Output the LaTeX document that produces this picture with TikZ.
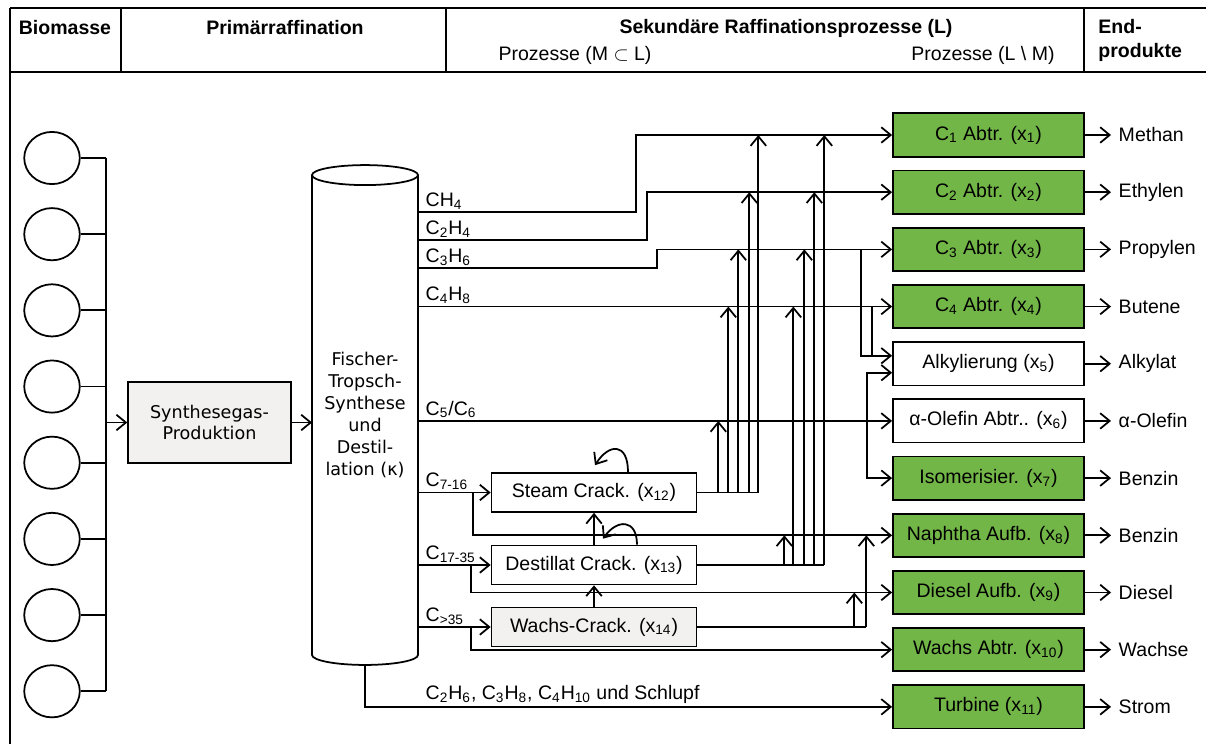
\documentclass[tikz,border=0pt]{standalone}
\usepackage{fontspec}
\setmainfont{Liberation Sans}
\newfontfamily\dejavu{DejaVu Sans}
\usepackage{tikz}
\usetikzlibrary{arrows.meta,shapes.geometric,positioning,calc}
\definecolor{procgreen}{RGB}{114,182,72}
\definecolor{procgrey}{RGB}{243,241,239}

\begin{document}
\begin{tikzpicture}[
    x=0.018cm, y=0.018cm,
    line width=0.9pt,
    font=\fontsize{10}{12}\selectfont,
    bio/.style={ellipse,draw,minimum width=1.0cm,minimum height=0.94cm,inner sep=0pt},
    gas/.style={rectangle,draw,fill=procgrey,minimum width=2.93cm,minimum height=1.46cm,
                align=center,font=\dejavu\fontsize{9}{11.2}\selectfont},
    col/.style={rectangle,minimum width=1.908cm,minimum height=8.64cm,inner sep=0pt,outer sep=0pt,
                align=center,font=\dejavu\fontsize{9}{11.2}\selectfont},
    sec/.style={rectangle,draw,fill=procgreen,minimum width=3.44cm,minimum height=0.78cm,inner sep=0pt},
    opt/.style={sec,fill=white},
    crk/.style={rectangle,draw,fill=white,minimum width=3.69cm,minimum height=0.70cm,inner sep=0pt},
    prod/.style={anchor=west,inner sep=3.5pt},
    strm/.style={anchor=south west,inner sep=1pt,xshift=2.5pt},
    hd/.style={font=\fontsize{10}{12.3}\selectfont\bfseries},
    ar/.style={-{Straight Barb[length=1.7mm,width=2.8mm]}}
  ]
  \useasboundingbox (0,0) rectangle (1206,-744);

  % frame and header
  \draw (10,-8) -- (1206,-8);
  \draw (10,-72) -- (1206,-72);
  \draw (10,-8) -- (10,-744);
  \draw (121,-8) -- (121,-72);
  \draw (446,-8) -- (446,-72);
  \draw (1084,-8) -- (1084,-72);
  \node[hd] (h1) at (65,-28) {Biomasse};
  \node[hd] (h2) at (285,-28) {Primärraffination};
  \node[hd] (h3) at (786,-28) {Sekundäre Raffinationsprozesse (L)};
  \node (h4) at (575,-55) {Prozesse (M $\subset$ L)};
  \node (h5) at (983,-55) {Prozesse (L \textbackslash{} M)};
  \node[hd,align=left,anchor=west] (h6) at (1091,-40) {End-\\produkte};

  % biomass sources
  \node[bio] (b1) at (52,-158) {};
  \node[bio,below=0.40cm of b1] (b2) {};
  \node[bio,below=0.40cm of b2] (b3) {};
  \node[bio,below=0.40cm of b3] (b4) {};
  \node[bio,below=0.40cm of b4] (b5) {};
  \node[bio,below=0.40cm of b5] (b6) {};
  \node[bio,below=0.40cm of b6] (b7) {};
  \node[bio,below=0.40cm of b7] (b8) {};
  \draw (b1.east) -- ++(25,0) coordinate (bt);
  \draw (b2.east) -- (b2.east -| bt);
  \draw (b3.east) -- (b3.east -| bt);
  \draw (b4.east) -- (b4.east -| bt);
  \draw (b5.east) -- (b5.east -| bt);
  \draw (b6.east) -- (b6.east -| bt);
  \draw (b7.east) -- (b7.east -| bt);
  \draw (b8.east) -- (b8.east -| bt);
  \draw (bt) -- (b8.east -| bt);

  % primary refining
  \node[gas] (syn) at (209.5,-422.5) {Synthesegas-\\Produktion};
  \node[col] (ft) at (365,-415) {Fischer-\\Tropsch-\\Synthese\\und\\Destil-\\lation (κ)};
  \draw (ft.north west) -- (ft.south west)
        arc[start angle=180,end angle=360,x radius=0.954cm,y radius=0.18cm] -- (ft.north east);
  \draw (ft.north) ellipse[x radius=0.954cm,y radius=0.18cm];
  \draw[ar] (syn.west -| bt) -- (syn.west);
  \draw[ar] (syn.east) -- (syn.east -| ft.west);

  % secondary processes and end products
  \node[sec] (c1) at (988.5,-135) {C\textsubscript{1} Abtr. (x\textsubscript{1})};
  \node[sec,below=0.218cm of c1] (c2) {C\textsubscript{2} Abtr. (x\textsubscript{2})};
  \node[sec,below=0.218cm of c2] (c3) {C\textsubscript{3} Abtr. (x\textsubscript{3})};
  \node[sec,below=0.218cm of c3] (c4) {C\textsubscript{4} Abtr. (x\textsubscript{4})};
  \node[opt,below=0.218cm of c4] (c5) {Alkylierung (x\textsubscript{5})};
  \node[opt,below=0.218cm of c5] (c6) {α-Olefin Abtr.. (x\textsubscript{6})};
  \node[sec,below=0.218cm of c6] (c7) {Isomerisier. (x\textsubscript{7})};
  \node[sec,below=0.218cm of c7] (c8) {Naphtha Aufb. (x\textsubscript{8})};
  \node[sec,below=0.218cm of c8] (c9) {Diesel Aufb. (x\textsubscript{9})};
  \node[sec,below=0.218cm of c9] (c10) {Wachs Abtr. (x\textsubscript{10})};
  \node[sec,below=0.218cm of c10] (c11) {Turbine (x\textsubscript{11})};

  \node[prod,right=0.47cm of c1] (p1) {Methan};
  \node[prod,right=0.47cm of c2] (p2) {Ethylen};
  \node[prod,right=0.47cm of c3] (p3) {Propylen};
  \node[prod,right=0.47cm of c4] (p4) {Butene};
  \node[prod,right=0.47cm of c5] (p5) {Alkylat};
  \node[prod,right=0.47cm of c6] (p6) {α-Olefin};
  \node[prod,right=0.47cm of c7] (p7) {Benzin};
  \node[prod,right=0.47cm of c8] (p8) {Benzin};
  \node[prod,right=0.47cm of c9] (p9) {Diesel};
  \node[prod,right=0.47cm of c10] (p10) {Wachse};
  \node[prod,right=0.47cm of c11] (p11) {Strom};
  \draw[ar] (c1) -- (p1);
  \draw[ar] (c2) -- (p2);
  \draw[ar] (c3) -- (p3);
  \draw[ar] (c4) -- (p4);
  \draw[ar] (c5) -- (p5);
  \draw[ar] (c6) -- (p6);
  \draw[ar] (c7) -- (p7);
  \draw[ar] (c8) -- (p8);
  \draw[ar] (c9) -- (p9);
  \draw[ar] (c10) -- (p10);
  \draw[ar] (c11) -- (p11);

  % cracking units
  \node[crk] (sc) at (594,-492.5) {Steam Crack. (x\textsubscript{12})};
  \node[crk] (dc) at (594,-565) {Destillat Crack. (x\textsubscript{13})};
  \node[crk,fill=procgrey] (wc) at (594,-627) {Wachs-Crack. (x\textsubscript{14})};

  % product streams of the column
  \coordinate (t1) at (ft.east |- 0,-212);
  \coordinate (t2) at (ft.east |- 0,-240);
  \coordinate (t3) at (ft.east |- 0,-268);
  \coordinate (t4) at (ft.east |- c4);
  \coordinate (t5) at (ft.east |- c6);
  \coordinate (t6) at (ft.east |- sc);
  \coordinate (t7) at (ft.east |- dc);
  \coordinate (t8) at (ft.east |- wc);
  \node[strm] (l1) at (t1) {CH\textsubscript{4}};
  \node[strm] (l2) at (t2) {C\textsubscript{2}H\textsubscript{4}};
  \node[strm] (l3) at (t3) {C\textsubscript{3}H\textsubscript{6}};
  \node[strm] (l4) at (t4) {C\textsubscript{4}H\textsubscript{8}};
  \node[strm] (l5) at (t5) {C\textsubscript{5}/C\textsubscript{6}};
  \node[strm] (l6) at (t6) {C\textsubscript{7-16}};
  \node[strm] (l7) at (t7) {C\textsubscript{17-35}};
  \node[strm] (l8) at (t8) {C\textsubscript{>35}};
  \node[strm] (l9) at (ft.east |- c11) {C\textsubscript{2}H\textsubscript{6}, C\textsubscript{3}H\textsubscript{8}, C\textsubscript{4}H\textsubscript{10} und Schlupf};

  \draw[ar] (t1) -- ++(218,0) |- (c1);
  \draw[ar] (t2) -- ++(229,0) |- (c2);
  \draw[ar] (t3) -- ++(239,0) |- (c3);
  \draw[ar] (t4) -- (c4);
  \draw[ar] (t5) -- (c6);
  \draw[ar] (t6) -- (sc);
  \draw[ar] (t7) -- (dc);
  \draw[ar] (t8) -- (wc);
  \draw[ar] ($(t6)+(55,0)$) |- (c8);
  \draw[ar] ($(t7)+(53,0)$) |- (c9);
  \draw[ar] ($(t8)+(53,0)$) |- (c10);
  \draw[ar] ($(ft.south)+(0,-10)$) |- (c11);

  % feeds of alkylation and isomerisation
  \draw[ar] ($(c3.west)+(-31,0)$) |- ($(c5.west)+(0,8)$);
  \draw ($(c4.west)+(-20,0)$) -- ($(c5.west)+(-20,8)$);
  \draw[ar] ($(c6.west)+(-25,0)$) |- ($(c5.west)+(0,-9)$);
  \draw[ar] ($(c6.west)+(-25,0)$) |- (c7);

  % steam cracker products
  \coordinate (s5) at ($(sc.east)+(21,0)$);
  \coordinate (s4) at ($(sc.east)+(31,0)$);
  \coordinate (s3) at ($(sc.east)+(41,0)$);
  \coordinate (s2) at ($(sc.east)+(52,0)$);
  \coordinate (s1) at ($(sc.east)+(61,0)$);
  \draw (sc.east) -- (s1);
  \draw[ar] (s5) -- (s5 |- c6.west);
  \draw[ar] (s4) -- (s4 |- c4.west);
  \draw[ar] (s3) -- (s3 |- c3.west);
  \draw[ar] (s2) -- (s2 |- c2.west);
  \draw[ar] (s1) -- (s1 |- c1.west);

  % distillate cracker products
  \coordinate (d8) at ($(dc.east)+(87,0)$);
  \coordinate (d4) at ($(dc.east)+(96,0)$);
  \coordinate (d3) at ($(dc.east)+(107,0)$);
  \coordinate (d2) at ($(dc.east)+(117,0)$);
  \coordinate (d1) at ($(dc.east)+(127,0)$);
  \draw (dc.east) -- (d1);
  \draw[ar] (d8) -- (d8 |- c8.west);
  \draw[ar] (d4) -- (d4 |- c4.west);
  \draw[ar] (d3) -- (d3 |- c3.west);
  \draw[ar] (d2) -- (d2 |- c2.west);
  \draw[ar] (d1) -- (d1 |- c1.west);

  % wax cracker products
  \coordinate (w9) at ($(wc.east)+(157,0)$);
  \coordinate (w8) at ($(wc.east)+(169,0)$);
  \draw (wc.east) -- (w8);
  \draw[ar] (w9) -- (w9 |- c9.west);
  \draw[ar] (w8) -- (w8 |- c8.west);

  % cracker cascade and recycles
  \draw[ar] (dc) -- (sc);
  \draw[ar] (wc) -- (dc);
  \draw[ar] ($(sc.north)+(34,0)$) .. controls +(0,30) and +(14,22) .. ($(sc.north)+(1,7)$);
  \draw[ar] ($(dc.north)+(43,0)$) .. controls +(0,26) and +(14,20) .. ($(dc.north)+(9,6)$);
\end{tikzpicture}
\end{document}
